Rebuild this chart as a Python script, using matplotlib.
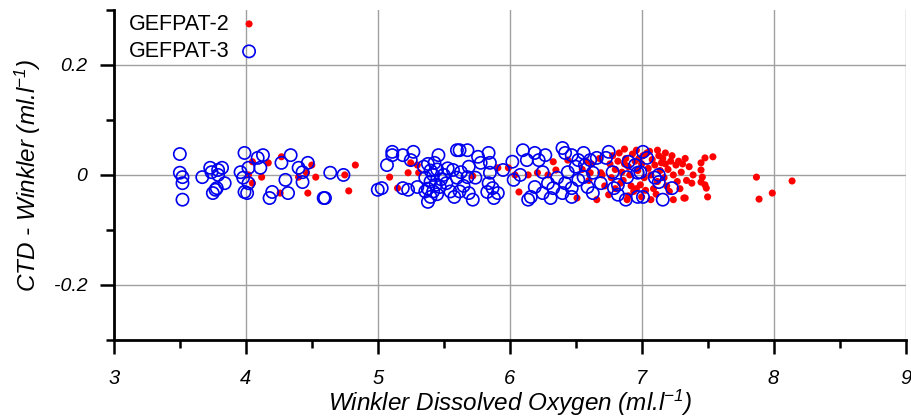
import matplotlib
matplotlib.use('Agg')
import matplotlib.pyplot as plt
from matplotlib.ticker import MultipleLocator

plt.rcParams['font.family'] = ['Liberation Sans', 'DejaVu Sans']
plt.rcParams['mathtext.default'] = 'regular'

# GEFPAT-2 (red filled dots)
g2_x = [4.05, 4.17, 4.02, 4.12, 4.05, 4.27, 4.50, 4.46, 4.53, 4.40, 4.26, 4.47,
        4.83, 4.75, 4.78, 5.09, 5.15, 5.25, 5.23, 5.31, 5.30,
        5.72, 5.91, 5.99, 6.04, 6.07, 6.14, 6.21, 6.33, 6.29, 6.35, 6.51, 6.44,
        6.55, 6.60, 6.62, 6.70, 6.68, 6.66, 6.58, 6.72, 6.61, 6.69,
        6.76, 6.78, 6.80, 6.77, 6.82, 6.84, 6.80, 6.75, 6.83, 6.85,
        6.87, 6.88, 6.90, 6.86, 6.92, 6.89, 6.93, 6.91, 6.94, 6.87, 6.95, 6.90,
        6.96, 6.98, 7.00, 6.97, 7.02, 6.99, 7.03, 7.00, 7.04, 7.05, 6.96, 7.01,
        7.06, 7.08, 7.10, 7.07, 7.12, 7.09, 7.13, 7.14, 7.11, 7.15, 7.07, 7.12,
        7.16, 7.18, 7.20, 7.17, 7.22, 7.19, 7.24, 7.21, 7.24, 7.23, 7.18,
        7.26, 7.28, 7.30, 7.27, 7.32, 7.31, 7.34, 7.29, 7.33,
        7.36, 7.39, 7.45, 7.45, 7.48, 7.54, 7.46, 7.45, 7.48, 7.49, 7.50, 7.38, 7.33,
        7.87, 7.89, 7.99, 8.14]
g2_y = [0.024, 0.022, 0.000, -0.004, -0.015, 0.033, 0.018, 0.004, -0.004, -0.004, -0.033, -0.033,
        0.018, 0.000, -0.029, -0.004, -0.024, 0.022, 0.004, 0.004, 0.018,
        -0.002, 0.013, 0.013, 0.000, -0.031, 0.000, 0.004, 0.024, 0.000, 0.009, -0.042, 0.027,
        0.010, -0.010, 0.020, 0.000, 0.030, -0.045, 0.025, -0.020, 0.004, 0.004,
        0.020, 0.035, 0.010, -0.005, 0.025, -0.015, -0.025, -0.036, 0.040, 0.005,
        0.047, 0.030, 0.015, -0.010, -0.020, -0.045, 0.038, 0.000, -0.030, 0.020, 0.025, -0.038,
        0.045, 0.030, 0.020, 0.008, -0.005, -0.018, -0.028, -0.040, 0.040, 0.012, -0.025, 0.035,
        0.043, 0.028, 0.018, 0.000, -0.012, -0.025, 0.035, 0.008, -0.035, 0.022, -0.045, 0.045,
        0.030, 0.020, 0.010, -0.005, 0.025, -0.020, 0.000, -0.030, -0.045, 0.035, 0.040,
        0.018, 0.025, 0.005, -0.012, -0.042, 0.020, -0.010, -0.025, 0.030,
        0.015, 0.000, 0.022, 0.009, 0.031, 0.033, -0.004, -0.013, -0.018, -0.024, -0.040, -0.015, -0.042,
        -0.004, -0.044, -0.033, -0.011]

# GEFPAT-3 (blue open circles)
g3_x = [3.50, 3.50, 3.52, 3.52, 3.52, 3.67, 3.73, 3.74, 3.79, 3.82, 3.79, 3.84,
        3.77, 3.75, 3.78, 3.99, 3.96, 3.98, 4.02, 3.99, 4.01, 4.09, 4.13, 4.02,
        4.11, 4.20, 4.18, 4.27, 4.34, 4.30, 4.32, 4.40, 4.43, 4.47, 4.43, 4.59,
        4.64, 4.74, 4.60,
        5.07, 5.11, 5.11, 5.19, 5.27, 5.25, 5.46, 5.60, 5.62, 5.03, 5.00, 5.19,
        5.23, 5.30, 5.38, 5.57,
        5.35, 5.38, 5.40, 5.42, 5.36, 5.40, 5.44, 5.38, 5.42, 5.45, 5.40, 5.47,
        5.48, 5.45, 5.36, 5.43, 5.50, 5.52, 5.55, 5.58, 5.53, 5.60, 5.63, 5.65, 5.62,
        5.68, 5.76, 5.84, 5.78, 5.85, 5.69, 5.68, 5.74, 5.85, 5.84, 5.87, 5.83,
        5.91, 5.88, 5.72, 5.69, 5.95, 6.02, 6.03, 6.10, 6.13, 6.16, 6.14, 6.19,
        6.22, 6.27, 6.19, 6.25, 6.31, 6.29, 6.36, 6.40, 6.42, 6.47, 6.52, 6.50,
        6.44, 6.42, 6.47, 6.52, 6.40, 6.47, 6.33, 6.25, 6.08,
        6.56, 6.61, 6.57, 6.66, 6.75, 6.73, 6.90, 6.95, 6.78, 6.63, 6.56, 6.69,
        6.59, 6.63, 6.82, 6.79, 6.89, 6.97, 6.99, 7.01, 7.04, 7.13, 7.13, 7.23,
        6.88, 6.97, 7.01, 7.16, 7.10, 6.82]
g3_y = [0.038, 0.004, -0.004, -0.015, -0.045, -0.004, 0.013, 0.005, 0.009, 0.013, 0.000, -0.015,
        -0.027, -0.033, -0.024, 0.040, 0.005, -0.005, -0.015, -0.031, -0.033, 0.031, 0.036, 0.013,
        0.013, -0.031, -0.042, 0.022, 0.036, -0.009, -0.033, 0.013, 0.005, 0.022, -0.013, -0.042,
        0.004, 0.000, -0.042,
        0.018, 0.042, 0.036, 0.036, 0.042, 0.027, 0.036, 0.045, 0.045, -0.024, -0.027, -0.024,
        -0.027, -0.022, -0.049, 0.009,
        0.015, 0.020, 0.008, 0.000, -0.005, -0.012, -0.018, -0.025, -0.030, -0.035, -0.040, -0.022,
        -0.008, 0.010, -0.030, 0.022, 0.000, -0.015, -0.030, -0.040, 0.012, -0.005, 0.005, -0.020, -0.030,
        0.045, 0.033, 0.040, 0.022, 0.022, 0.015, -0.004, -0.005, 0.004, -0.015, -0.024, -0.031,
        -0.033, -0.042, -0.045, -0.033, 0.009, 0.024, -0.009, 0.045, 0.027, -0.040, -0.045, 0.040,
        0.027, 0.036, -0.022, -0.033, -0.042, -0.015, -0.005, 0.049, 0.040, 0.036, 0.027, 0.015,
        0.005, -0.015, -0.024, -0.009, -0.033, -0.040, -0.024, 0.005, 0.000,
        0.040, 0.027, 0.018, 0.031, 0.042, 0.031, 0.024, 0.018, 0.005, 0.004, -0.004, -0.015,
        -0.022, -0.033, -0.018, -0.024, -0.004, 0.004, 0.005, 0.042, 0.031, 0.000, -0.013, -0.024,
        -0.045, -0.040, -0.040, -0.045, -0.005, -0.036]

fig = plt.figure(figsize=(9.11, 4.18), dpi=100)
ax = fig.add_axes([0.125, 0.187, 0.869, 0.789])

ax.scatter(g2_x, g2_y, s=26, color='#ff0000', edgecolors='none', label='GEFPAT-2', zorder=3)
ax.scatter(g3_x, g3_y, s=78, facecolors='none', edgecolors='#0000ee', linewidths=1.2,
           label='GEFPAT-3', zorder=4)

ax.set_xlim(3, 9)
ax.set_ylim(-0.3, 0.3)
ax.xaxis.set_major_locator(MultipleLocator(1))
ax.xaxis.set_minor_locator(MultipleLocator(0.5))
ax.yaxis.set_minor_locator(MultipleLocator(0.1))
ax.set_yticks([-0.2, 0, 0.2])
ax.set_yticklabels(['-0.2', '0', '0.2'])

ax.grid(True, which='major', color='#a0a0a0', linewidth=1.0, zorder=0)
ax.set_axisbelow(True)
for side in ['top', 'right']:
    ax.spines[side].set_visible(False)
for side in ['left', 'bottom']:
    ax.spines[side].set_linewidth(2)
ax.tick_params(which='major', length=10, width=1.8, direction='out')
ax.tick_params(which='minor', length=5.5, width=1.8, direction='out')
ax.tick_params(axis='x', which='major', pad=11, labelsize=14.5)
ax.tick_params(axis='y', which='major', pad=9, labelsize=14)
for lab in ax.get_xticklabels() + ax.get_yticklabels():
    lab.set_style('italic')

ax.set_xlabel('Winkler Dissolved Oxygen (ml.l$^{-1}$)', fontsize=17.5, style='italic', labelpad=0)
ax.set_ylabel('CTD - Winkler (ml.l$^{-1}$)', fontsize=17.5, style='italic', labelpad=8)

ax.legend(loc='upper left', bbox_to_anchor=(0.0, 1.035), frameon=False, markerfirst=False,
          fontsize=15.5, handlelength=0.8, handletextpad=0.5, labelspacing=0.3,
          borderaxespad=0.3)

fig.savefig('out.png', dpi=100)
